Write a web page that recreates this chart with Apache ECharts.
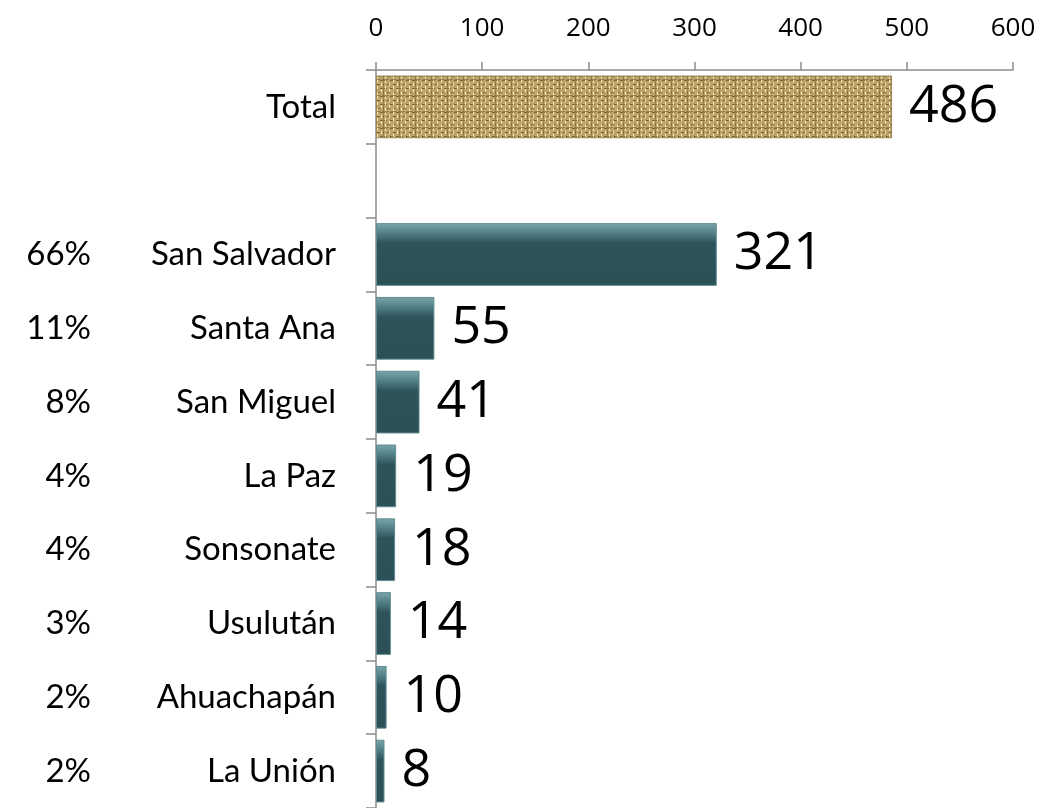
<!DOCTYPE html>
<html>
<head>
<meta charset="utf-8">
<script src="https://cdn.jsdelivr.net/npm/echarts@6/dist/echarts.min.js"></script>
<style>
html,body{margin:0;padding:0;background:#fff;}
#chart{width:1042px;height:808px;}
</style>
</head>
<body>
<div id="chart"></div>
<script>
// ---- data ----
var categories = ['Total', '', 'San Salvador', 'Santa Ana', 'San Miguel', 'La Paz', 'Sonsonate', 'Usulután', 'Ahuachapán', 'La Unión'];
var values = [486, null, 321, 55, 41, 19, 18, 14, 10, 8];
var percents = ['', '', '66%', '11%', '8%', '4%', '4%', '3%', '2%', '2%'];
var xTicks = [0, 100, 200, 300, 400, 500, 600];

// woven texture for the Total bar (deterministic pattern)
function makeWeave() {
  var c = document.createElement('canvas');
  c.width = 16; c.height = 16;
  var g = c.getContext('2d');
  g.fillStyle = '#bea36a'; g.fillRect(0, 0, 16, 16);
  // horizontal threads
  g.fillStyle = '#7d6330';
  for (var y = 0; y < 16; y += 4) {
    for (var x = 0; x < 16; x += 6) {
      var off = (y / 4) % 2 ? 3 : 0;
      g.fillRect((x + off) % 16, y, 3, 1);
    }
  }
  // vertical light threads
  g.fillStyle = '#f1e6b8';
  for (var x2 = 0; x2 < 16; x2 += 4) {
    for (var y2 = 0; y2 < 16; y2 += 6) {
      var off2 = (x2 / 4) % 2 ? 3 : 0;
      g.fillRect(x2 + 1, (y2 + off2) % 16, 1, 3);
    }
  }
  g.fillStyle = 'rgba(100,75,30,0.4)';
  g.fillRect(0, 15, 16, 1);
  g.fillRect(15, 0, 1, 16);
  return c;
}

var tealGrad = new echarts.graphic.LinearGradient(0, 0, 0, 1, [
  {offset: 0, color: '#7aa6ab'},
  {offset: 0.18, color: '#4d7a80'},
  {offset: 0.32, color: '#2e545a'},
  {offset: 1, color: '#2b5157'}
]);

var seriesData = values.map(function (v, i) {
  if (i === 0) {
    return {value: v, itemStyle: {color: {image: makeWeave(), repeat: 'repeat'}, borderColor: '#9a8452', borderWidth: 1}};
  }
  return {value: v, itemStyle: {color: tealGrad, borderColor: '#5f8c91', borderWidth: 1}};
});

var chart = echarts.init(document.getElementById('chart'), null, {renderer: 'canvas'});
chart.setOption({
  animation: false,
  backgroundColor: '#ffffff',
  grid: {left: 376, right: 29, top: 70, height: 742, containLabel: false},
  xAxis: {
    type: 'value',
    position: 'top',
    min: 0, max: 600, interval: 100,
    axisLine: {show: true, lineStyle: {color: '#8c8c8c', width: 1.5}},
    axisTick: {show: true, length: 8, lineStyle: {color: '#8c8c8c', width: 1.5}},
    splitLine: {show: false},
    axisLabel: {
      margin: 28,
      fontFamily: 'Open Sans',
      fontSize: 26,
      color: '#000',
      formatter: function (v) { return xTicks.indexOf(v) >= 0 ? String(v) : ''; }
    }
  },
  yAxis: {
    type: 'category',
    inverse: true,
    data: categories,
    axisLine: {show: true, lineStyle: {color: '#8c8c8c', width: 1.5}},
    axisTick: {show: true, length: 10, lineStyle: {color: '#8c8c8c', width: 1.5}},
    axisLabel: {
      margin: 40,
      formatter: function (v, i) {
        return '{p|' + percents[i] + '}{n|' + v + '}';
      },
      rich: {
        p: {width: 90, align: 'right', fontFamily: 'Lato', fontSize: 33, color: '#000'},
        n: {width: 245, align: 'right', fontFamily: 'Lato', fontSize: 33, color: '#000'}
      }
    }
  },
  series: [{
    type: 'bar',
    data: seriesData,
    barWidth: '85%',
    label: {
      show: true,
      position: 'right',
      distance: 17,
      fontFamily: 'Open Sans',
      fontSize: 52,
      color: '#000',
      formatter: function (p) { return p.value == null ? '' : String(p.value); }
    }
  }]
});
</script>
</body>
</html>
